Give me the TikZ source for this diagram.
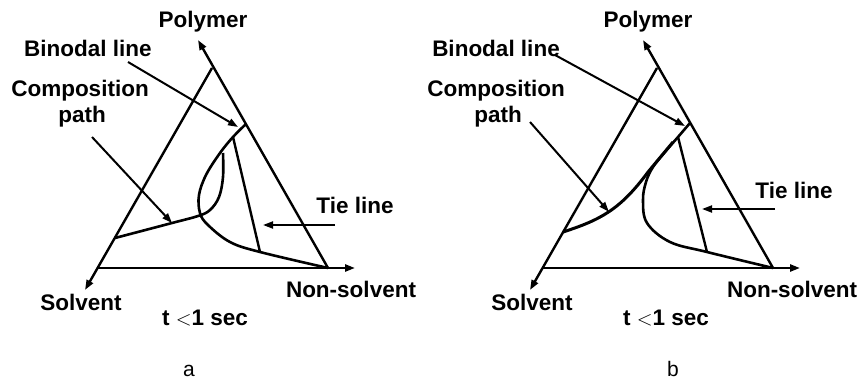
\documentclass[tikz,border=0pt]{standalone}
\usepackage{fontspec}
\setmainfont{Liberation Sans}
\usetikzlibrary{arrows.meta}

\begin{document}
\begin{tikzpicture}[x=1pt,y=-1pt,
    axis/.style={line width=2.4pt,-{Triangle[length=10pt,width=7pt]}},
    edge/.style={line width=2.4pt},
    curve/.style={line width=2.6pt,smooth,tension=0.6},
    pointer/.style={line width=2pt,-{Triangle[length=10pt,width=7pt]}},
    lbl/.style={anchor=base,inner sep=0pt,font=\fontsize{22.5}{26}\selectfont\bfseries}]
  \useasboundingbox[fill=white] (0,0) rectangle (858,382);

  % ---------------- Panel a ----------------
  % Triangle corners and axis tips
  \coordinate (aTop) at (212,68);
  \coordinate (aLeft) at (98,268);
  \coordinate (aRight) at (328,268);
  \coordinate (aSolv) at (85,290);
  \coordinate (aPoly) at (198,40);
  \coordinate (aNons) at (355,268);
  \draw[axis] (aTop) -- (aSolv);
  \draw[axis] (aRight) -- (aPoly);
  \draw[axis] (aLeft) -- (aNons);

  % Binodal, tie line and composition path
  \coordinate (aBinTop) at (233,137);
  \coordinate (aBinLow) at (260,252);
  \draw[curve] plot coordinates {(246,124) (aBinTop) (220,153) (206,175) (199,195)
    (200,213) (208,225) (230,242) (aBinLow) (aRight)};
  \draw[edge] (aBinTop) -- (aBinLow);
  \coordinate (aPath) at (172,223);
  \draw[curve] plot coordinates {(115,238) (aPath) (198,216) (210,210) (219,197)
    (223,177) (223,153)};

  % Labels
  \node[lbl] (aPolymer) at (203,28) {Polymer};
  \node[lbl] (aBinodal) at (88,57) {Binodal line};
  \node[lbl] (aComp) at (80,97) {Composition};
  \node[lbl] (aCompPath) at (82,123) {path};
  \node[lbl] (aTie) at (355,213) {Tie line};
  \node[lbl] (aNonsolvent) at (351,297) {Non-solvent};
  \node[lbl] (aSolvent) at (81,310) {Solvent};
  \node[lbl] (aTime) at (205,325) {t {\normalfont$<$}1 sec};
  \node[lbl,font=\fontsize{21}{24}\selectfont] (aName) at (189,376) {a};

  % Pointers
  \coordinate (aBinEnd) at (238,127);
  \coordinate (aTieEnd) at (263,225);
  \draw[pointer] (128,62) -- (aBinEnd);
  \draw[pointer] (92,137) -- (aPath);
  \draw[pointer] (335,225) -- (aTieEnd);

  % ---------------- Panel b ----------------
  % Triangle corners and axis tips
  \coordinate (bTop) at (657,68);
  \coordinate (bLeft) at (543,268);
  \coordinate (bRight) at (773,268);
  \coordinate (bSolv) at (530,290);
  \coordinate (bPoly) at (643,40);
  \coordinate (bNons) at (800,268);
  \draw[axis] (bTop) -- (bSolv);
  \draw[axis] (bRight) -- (bPoly);
  \draw[axis] (bLeft) -- (bNons);

  % Binodal, tie line and composition path
  \coordinate (bBinTop) at (678,137);
  \coordinate (bBinLow) at (707,252);
  \draw[curve] plot coordinates {(690,123) (bBinTop) (665,152) (653,167) (646,182)
    (643,200) (647,223) (670,242) (bBinLow) (bRight)};
  \draw[edge] (bBinTop) -- (bBinLow);
  \draw[line width=3pt] (563,232) .. controls (600,220) and (620,210) .. coordinate[pos=0.5] (bPath)
    (648,172) -- (673,142);

  % Labels
  \node[lbl] (bPolymer) at (648,28) {Polymer};
  \node[lbl] (bBinodal) at (496,57) {Binodal line};
  \node[lbl] (bComp) at (496,97) {Composition};
  \node[lbl] (bCompPath) at (498,123) {path};
  \node[lbl] (bTie) at (794,198) {Tie line};
  \node[lbl] (bNonsolvent) at (792,297) {Non-solvent};
  \node[lbl] (bSolvent) at (532,310) {Solvent};
  \node[lbl] (bTime) at (666,325) {t {\normalfont$<$}1 sec};
  \node[lbl,font=\fontsize{21}{24}\selectfont] (bName) at (673,376) {b};

  % Pointers
  \coordinate (bBinEnd) at (685,126);
  \coordinate (bTieEnd) at (702,209);
  \draw[pointer] (555,55) -- (bBinEnd);
  \draw[pointer] (530,122) -- (bPath);
  \draw[pointer] (775,209) -- (bTieEnd);
\end{tikzpicture}
\end{document}
